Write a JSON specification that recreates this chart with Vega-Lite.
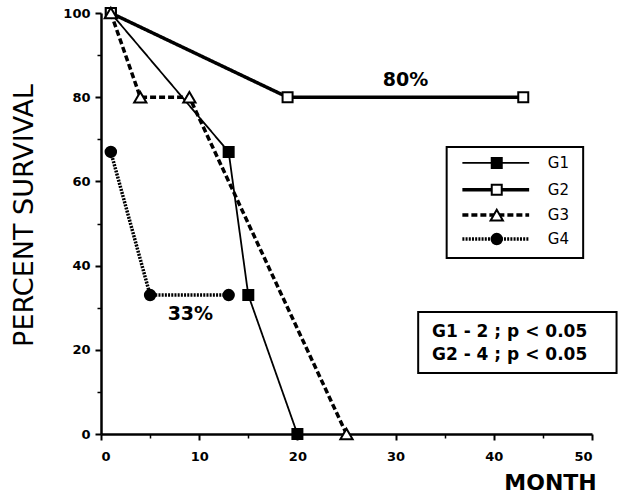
{
  "$schema": "https://vega.github.io/schema/vega-lite/v6.json",
  "width": 491,
  "height": 421,
  "autosize": {"type": "none"},
  "padding": {"left": 101, "top": 13, "right": 27, "bottom": 61},
  "background": "white",
  "config": {"view": {"stroke": null}, "axis": {"grid": false, "domainColor": "black", "tickColor": "black", "labelColor": "black", "titleColor": "black"}},
  "datasets": {
    "series": [
      {"g": "G1", "x": 1, "y": 100}, {"g": "G1", "x": 13, "y": 67}, {"g": "G1", "x": 15, "y": 33}, {"g": "G1", "x": 20, "y": 0},
      {"g": "G2", "x": 1, "y": 100}, {"g": "G2", "x": 19, "y": 80}, {"g": "G2", "x": 43, "y": 80},
      {"g": "G3", "x": 1, "y": 100}, {"g": "G3", "x": 4, "y": 80}, {"g": "G3", "x": 9, "y": 80}, {"g": "G3", "x": 25, "y": 0},
      {"g": "G4", "x": 1, "y": 67}, {"g": "G4", "x": 5, "y": 33}, {"g": "G4", "x": 13, "y": 33}
    ],
    "legendLines": [
      {"g": "G1", "x": 36.8, "y": 64.4}, {"g": "G1", "x": 43.6, "y": 64.4},
      {"g": "G2", "x": 36.8, "y": 58.0}, {"g": "G2", "x": 43.6, "y": 58.0},
      {"g": "G3", "x": 36.8, "y": 52.0}, {"g": "G3", "x": 43.6, "y": 52.0},
      {"g": "G4", "x": 36.8, "y": 46.3}, {"g": "G4", "x": 43.6, "y": 46.3}
    ],
    "legendItems": [
      {"g": "G1", "x": 40.3, "lx": 45.5, "y": 64.4},
      {"g": "G2", "x": 40.3, "lx": 45.5, "y": 58.0},
      {"g": "G3", "x": 40.3, "lx": 45.5, "y": 52.0},
      {"g": "G4", "x": 40.3, "lx": 45.5, "y": 46.3}
    ],
    "boxes": [
      {"box": "legend", "x": 35.2, "x2": 49.1, "y": 41.8, "y2": 68.2},
      {"box": "stats", "x": 32.3, "x2": 52.5, "y": 14.5, "y2": 29.0}
    ],
    "pct": [
      {"label": "80%", "x": 31, "y": 84},
      {"label": "33%", "x": 9.1, "y": 28.5}
    ],
    "stats": [
      {"label": "G1 - 2 ; p < 0.05", "x": 33.7, "y": 24.2},
      {"label": "G2 - 4 ; p < 0.05", "x": 33.7, "y": 18.8}
    ]
  },
  "resolve": {"axis": {"x": "independent", "y": "independent"}},
  "layer": [
    {
      "data": {"name": "series"},
      "mark": {"type": "line", "color": "black"},
      "encoding": {
        "x": {"field": "x", "type": "quantitative", "scale": {"domain": [0, 50], "nice": false},
          "axis": {"orient": "bottom", "values": [0, 10, 20, 30, 40, 50], "tickSize": 6, "tickWidth": 2, "domainWidth": 2.5, "labelPadding": 10,
            "labelFont": "DejaVu Sans", "labelFontWeight": "bold", "labelFontSize": 13,
            "title": "MONTH", "titleFont": "DejaVu Sans", "titleFontWeight": "bold", "titleFontSize": 22,
            "titleX": 449, "titleY": 48, "titleAlign": "center", "titleBaseline": "middle"}},
        "y": {"field": "y", "type": "quantitative", "scale": {"domain": [0, 100], "nice": false},
          "axis": {"orient": "left", "values": [0, 20, 40, 60, 80, 100], "tickSize": 6, "tickWidth": 2, "domainWidth": 2.5, "labelPadding": 5,
            "labelFont": "DejaVu Sans", "labelFontWeight": "bold", "labelFontSize": 13,
            "title": "PERCENT SURVIVAL", "titleFont": "DejaVu Sans", "titleFontWeight": "normal", "titleFontSize": 27,
            "titleX": -77, "titleY": 202, "titleAngle": -90, "titleAlign": "center", "titleBaseline": "middle"}},
        "detail": {"field": "g"},
        "strokeDash": {"field": "g", "type": "ordinal", "scale": {"domain": ["G1", "G2", "G3", "G4"], "range": [[1, 0], [1, 0], [6, 3], [2, 1.2]]}, "legend": null},
        "strokeWidth": {"field": "g", "type": "ordinal", "scale": {"type": "ordinal", "domain": ["G1", "G2", "G3", "G4"], "range": [1.8, 3.5, 3.5, 3.5]}, "legend": null}
      }
    },
    {
      "data": {"name": "legendLines"},
      "mark": {"type": "line", "color": "black"},
      "encoding": {
        "x": {"field": "x", "type": "quantitative", "axis": null},
        "y": {"field": "y", "type": "quantitative", "axis": null},
        "detail": {"field": "g"},
        "strokeDash": {"field": "g", "type": "ordinal", "scale": {"domain": ["G1", "G2", "G3", "G4"], "range": [[1, 0], [1, 0], [6, 3], [2, 1.2]]}, "legend": null},
        "strokeWidth": {"field": "g", "type": "ordinal", "scale": {"type": "ordinal", "domain": ["G1", "G2", "G3", "G4"], "range": [1.8, 3.5, 3.5, 3.5]}, "legend": null}
      }
    },
    {
      "data": {"name": "boxes"},
      "mark": {"type": "rect", "fill": "white", "fillOpacity": 0, "stroke": "black", "strokeWidth": 2},
      "encoding": {
        "x": {"field": "x", "type": "quantitative",
          "axis": {"orient": "bottom", "values": [5, 15, 25, 35, 45], "labels": false, "domain": false, "tickSize": 4, "tickWidth": 1.5, "title": null}},
        "x2": {"field": "x2"},
        "y": {"field": "y", "type": "quantitative",
          "axis": {"orient": "left", "values": [10, 30, 50, 70, 90], "labels": false, "domain": false, "tickSize": 4, "tickWidth": 1.5, "title": null}},
        "y2": {"field": "y2"}
      }
    },
    {
      "data": {"name": "series"},
      "mark": {"type": "point", "color": "black", "stroke": "black", "strokeWidth": 2, "opacity": 1},
      "encoding": {
        "x": {"field": "x", "type": "quantitative", "axis": null},
        "y": {"field": "y", "type": "quantitative", "axis": null},
        "shape": {"field": "g", "type": "nominal", "scale": {"domain": ["G1", "G2", "G3", "G4"], "range": ["square", "square", "triangle-up", "circle"]}, "legend": null},
        "fill": {"field": "g", "type": "nominal", "scale": {"domain": ["G1", "G2", "G3", "G4"], "range": ["black", "white", "white", "black"]}, "legend": null},
        "size": {"field": "g", "type": "ordinal", "scale": {"type": "ordinal", "domain": ["G1", "G2", "G3", "G4"], "range": [100, 100, 150, 110]}, "legend": null}
      }
    },
    {
      "data": {"name": "legendItems"},
      "mark": {"type": "point", "color": "black", "stroke": "black", "strokeWidth": 2, "opacity": 1},
      "encoding": {
        "x": {"field": "x", "type": "quantitative", "axis": null},
        "y": {"field": "y", "type": "quantitative", "axis": null},
        "shape": {"field": "g", "type": "nominal", "scale": {"domain": ["G1", "G2", "G3", "G4"], "range": ["square", "square", "triangle-up", "circle"]}, "legend": null},
        "fill": {"field": "g", "type": "nominal", "scale": {"domain": ["G1", "G2", "G3", "G4"], "range": ["black", "white", "white", "black"]}, "legend": null},
        "size": {"field": "g", "type": "ordinal", "scale": {"type": "ordinal", "domain": ["G1", "G2", "G3", "G4"], "range": [100, 100, 150, 110]}, "legend": null}
      }
    },
    {
      "data": {"name": "legendItems"},
      "mark": {"type": "text", "align": "left", "baseline": "middle", "font": "DejaVu Sans", "fontSize": 15, "color": "black"},
      "encoding": {
        "x": {"field": "lx", "type": "quantitative", "axis": null},
        "y": {"field": "y", "type": "quantitative", "axis": null},
        "text": {"field": "g"}
      }
    },
    {
      "data": {"name": "pct"},
      "mark": {"type": "text", "align": "center", "baseline": "middle", "font": "DejaVu Sans", "fontWeight": "bold", "fontSize": 19, "color": "black"},
      "encoding": {
        "x": {"field": "x", "type": "quantitative", "axis": null},
        "y": {"field": "y", "type": "quantitative", "axis": null},
        "text": {"field": "label"}
      }
    },
    {
      "data": {"name": "stats"},
      "mark": {"type": "text", "align": "left", "baseline": "middle", "font": "DejaVu Sans", "fontWeight": "bold", "fontSize": 17, "color": "black"},
      "encoding": {
        "x": {"field": "x", "type": "quantitative", "axis": null},
        "y": {"field": "y", "type": "quantitative", "axis": null},
        "text": {"field": "label"}
      }
    }
  ]
}
